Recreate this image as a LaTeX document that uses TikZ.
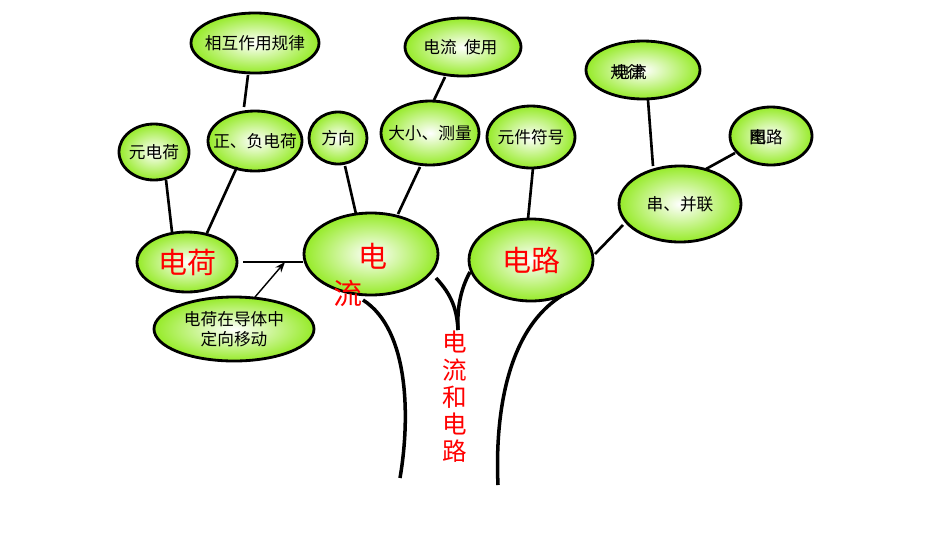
\documentclass[tikz,border=0pt]{standalone}
\usepackage{fontspec}
\newfontfamily\cjk{Noto Sans CJK SC}
\usetikzlibrary{shapes.geometric,arrows.meta}
\definecolor{lg}{RGB}{150,235,40}
\tikzset{
 bt/.style={font=\cjk\fontsize{9.5}{11.5}\selectfont},
 rt/.style={font=\cjk\fontsize{16.5}{18}\selectfont,text=red},
 ln/.style={line width=1.5pt}
}
\begin{document}
\begin{tikzpicture}[x=0.02cm,y=-0.02cm]
\useasboundingbox (0,0) rectangle (950,535);
\def\E(#1,#2,#3,#4,#5){\path[draw=black,line width=1.6pt,inner color=white,outer color=lg] (#2,#3) ellipse [x radius=#4,y radius=#5]; \coordinate (#1) at (#2,#3);}
\E(xh,255,43,64,30)
\E(yd,154,152,35,28)
\E(zf,255,141,47,30)
\E(fx,338,138,29,26)
\E(bs,463,47,58,29)
\E(dx,430,133,49,32)
\E(yj,531,137,44,31)
\E(gl,643,70,57,29)
\E(tl,771,136,41,29)
\E(cb,680,204,61,38)
\E(dh,187,262,50,30)
\E(dl,371,254,67,41)
\E(dlu,531,260,62,41)
\E(dy,234,329,80,32)
\node[bt] (t1) at (xh) {相互作用规律};
\node[bt] (t2) at (yd) {元电荷};
\node[bt] (t3) at (zf) {正、负电荷};
\node[bt] (t4) at (fx) {方向};
\node[bt] (t5) at (440,47) {电流};
\node[bt] (t5b) at (464,47) {\phantom{电流}使用};
\node[bt] (t6) at (dx) {大小、测量};
\node[bt] (t7) at (yj) {元件符号};
\node[bt] (t8) at (627,72) {规律};
\node[bt] (t8b) at (630,72) {电流};
\node[bt] (t9) at (766,137) {图路};
\node[bt] (t9b) at (758,137) {电};
\node[bt] (t10) at (cb) {串、并联};
\node[bt,align=center] (t11) at (dy) {电荷在导体中\\定向移动};
\node[rt] (t12) at (dh) {电荷};
\node[rt] (t13) at (dlu) {电路};
\node[rt] (t14) at (373,256) {电};
\node[rt] (t15) at (348,293) {流};
\node[rt,align=center,font=\cjk\fontsize{14}{15.5}\selectfont] (t16) at (455,397) {电\\流\\和\\电\\路};
\draw[ln] (166,180) -- (172,232);
\draw[ln] (248,75) -- (244,107);
\draw[ln] (237,167) -- (207,233);
\draw[ln] (345,166) -- (356,214);
\draw[ln] (420,167) -- (398,214);
\draw[ln] (445,77) -- (434,100);
\draw[ln] (533,168) -- (528,219);
\draw[ln] (648,100) -- (653,166);
\draw[ln] (735,153) -- (706,169);
\draw[ln] (623,225) -- (595,254);
\draw[ln] (243,262) -- (303,262);
\draw[line width=0.8pt,-{Stealth[length=6pt]}] (255,297) -- (285,262);
\draw[line width=2pt] (363,300) .. controls (410,330) and (410,420) .. (400,478);
\draw[line width=2pt] (436,278) .. controls (452,295) and (457,310) .. (458,330);
\draw[line width=2pt] (470,272) .. controls (460,290) and (457,310) .. (458,330);
\draw[line width=2pt] (563,295) .. controls (505,330) and (495,420) .. (498,485);
\end{tikzpicture}
\end{document}
